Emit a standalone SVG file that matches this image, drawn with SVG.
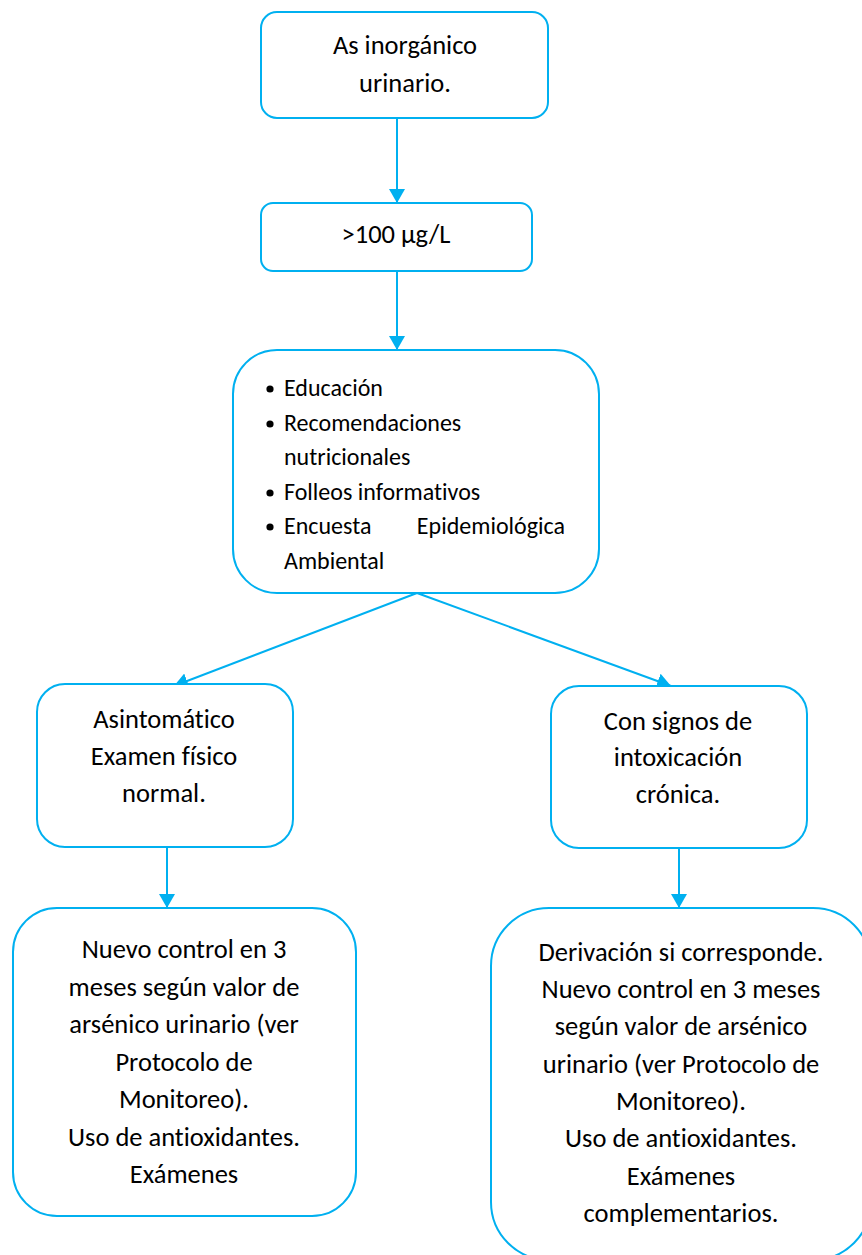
<svg xmlns="http://www.w3.org/2000/svg" width="862" height="1255" viewBox="0 0 862 1255">
  <defs>
    <style>
      .box { fill: #ffffff; stroke: #00B0F0; stroke-width: 2; }
      .link { fill: none; stroke: #00B0F0; stroke-width: 2; }
      .t { font-family: Carlito, Calibri, Lato, "Open Sans", sans-serif; font-size: 26.5px; fill: #000000; text-anchor: middle; font-variant-ligatures: none; }
      .b { font-family: Carlito, Calibri, Lato, "Open Sans", sans-serif; font-size: 24px; fill: #000000; font-variant-ligatures: none; }
      .dot { fill: #000000; }
    </style>
    <marker id="arrow" viewBox="0 0 14 16" refX="14" refY="8" markerWidth="14" markerHeight="16" markerUnits="userSpaceOnUse" orient="auto">
      <path d="M0,0 L14,8 L0,16 z" fill="#00B0F0"/>
    </marker>
  </defs>

  <rect width="862" height="1255" fill="#ffffff"/>

  <!-- connectors -->
  <g id="connectors">
    <line class="link" x1="397" y1="118" x2="397" y2="203" marker-end="url(#arrow)"/>
    <line class="link" x1="397" y1="271" x2="397" y2="350" marker-end="url(#arrow)"/>
    <line class="link" x1="417" y1="593" x2="174" y2="686" marker-end="url(#arrow)"/>
    <line class="link" x1="417" y1="593" x2="671" y2="686" marker-end="url(#arrow)"/>
    <line class="link" x1="167" y1="847" x2="167" y2="908" marker-end="url(#arrow)"/>
    <line class="link" x1="679" y1="848" x2="679" y2="908" marker-end="url(#arrow)"/>
  </g>

  <!-- source measurement -->
  <g id="node-source">
    <rect class="box" x="261" y="12" width="287" height="106" rx="16" ry="16"/>
    <text class="t" x="405" y="54">As inorgánico</text>
    <text class="t" x="405" y="92">urinario.</text>
  </g>

  <!-- threshold -->
  <g id="node-threshold">
    <rect class="box" x="261" y="203" width="271" height="68" rx="12" ry="12"/>
    <text class="t" x="396" y="243">&gt;100 µg/L</text>
  </g>

  <!-- general measures -->
  <g id="node-measures">
    <rect class="box" x="233" y="350" width="366" height="243" rx="44" ry="44"/>
    <circle class="dot" cx="270" cy="389" r="3.6"/>
    <text class="b" x="284" y="396">Educación</text>
    <circle class="dot" cx="270" cy="424" r="3.6"/>
    <text class="b" x="284" y="431">Recomendaciones</text>
    <text class="b" x="284" y="465">nutricionales</text>
    <circle class="dot" cx="270" cy="493" r="3.6"/>
    <text class="b" x="284" y="500">Folleos informativos</text>
    <circle class="dot" cx="270" cy="527" r="3.6"/>
    <text class="b" x="284" y="534">Encuesta</text>
    <text class="b" x="565" y="534" text-anchor="end">Epidemiológica</text>
    <text class="b" x="284" y="569">Ambiental</text>
  </g>

  <!-- asymptomatic branch -->
  <g id="node-asymptomatic">
    <rect class="box" x="37" y="684" width="256" height="163" rx="28" ry="28"/>
    <text class="t" x="164" y="728">Asintomático</text>
    <text class="t" x="164" y="765">Examen físico</text>
    <text class="t" x="164" y="802">normal.</text>
  </g>

  <!-- chronic signs branch -->
  <g id="node-chronic">
    <rect class="box" x="551" y="686" width="256" height="162" rx="28" ry="28"/>
    <text class="t" x="678" y="730">Con signos de</text>
    <text class="t" x="678" y="766">intoxicación</text>
    <text class="t" x="678" y="803">crónica.</text>
  </g>

  <!-- follow-up, asymptomatic -->
  <g id="node-followup-left">
    <rect class="box" x="13" y="908" width="343" height="308" rx="44" ry="44"/>
    <text class="t" x="184" y="958">Nuevo control en 3</text>
    <text class="t" x="184" y="996">meses según valor de</text>
    <text class="t" x="184" y="1033">arsénico urinario (ver</text>
    <text class="t" x="184" y="1071">Protocolo de</text>
    <text class="t" x="184" y="1108">Monitoreo).</text>
    <text class="t" x="184" y="1146">Uso de antioxidantes.</text>
    <text class="t" x="184" y="1183">Exámenes</text>
  </g>

  <!-- follow-up, chronic -->
  <g id="node-followup-right">
    <rect class="box" x="491" y="908" width="380" height="352" rx="58" ry="58"/>
    <text class="t" x="681" y="961">Derivación si corresponde.</text>
    <text class="t" x="681" y="998">Nuevo control en 3 meses</text>
    <text class="t" x="681" y="1035">según valor de arsénico</text>
    <text class="t" x="681" y="1073">urinario (ver Protocolo de</text>
    <text class="t" x="681" y="1110">Monitoreo).</text>
    <text class="t" x="681" y="1147">Uso de antioxidantes.</text>
    <text class="t" x="681" y="1185">Exámenes</text>
    <text class="t" x="681" y="1222">complementarios.</text>
  </g>
</svg>
